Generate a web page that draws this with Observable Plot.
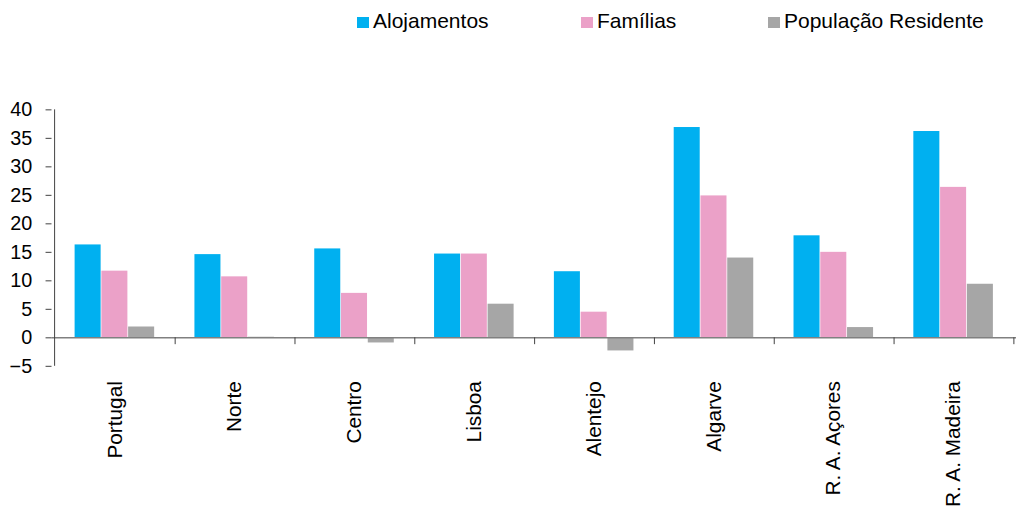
<!DOCTYPE html>
<html>
<head>
<meta charset="utf-8">
<script src="https://cdn.jsdelivr.net/npm/d3@7"></script>
<script src="https://cdn.jsdelivr.net/npm/@observablehq/plot@0.6"></script>
<style>
  html, body { margin: 0; padding: 0; background: #fff; width: 1016px; height: 508px; overflow: hidden; }
  #legend { position: relative; height: 44px; font-family: "Liberation Sans", Arial, sans-serif; font-size: 21px; color: #000; }
  #legend .item { position: absolute; top: 9px; line-height: 24px; white-space: nowrap; }
  #legend .sw { display: inline-block; width: 11.5px; height: 11.5px; margin-right: 4.5px; vertical-align: baseline; }
  #chart svg { display: block; overflow: visible; }
</style>
</head>
<body>
<div id="legend"></div>
<div id="chart"></div>
<script>
// Variação (%) por região
const regions = ["Portugal", "Norte", "Centro", "Lisboa", "Alentejo", "Algarve", "R. A. Açores", "R. A. Madeira"];
const seriesNames = ["Alojamentos", "Famílias", "População Residente"];
const alojamentos = [16.3, 14.6, 15.6, 14.7, 11.6, 36.9, 17.9, 36.2];
const familias = [11.7, 10.7, 7.8, 14.7, 4.5, 24.9, 15.0, 26.4];
const populacao = [1.9, 0.1, -0.9, 5.9, -2.3, 14.0, 1.8, 9.4];
const seriesColors = ["#00B0F0", "#EBA1C8", "#A6A6A6"];
const yTicks = [-5, 0, 5, 10, 15, 20, 25, 30, 35, 40];
const legendLeft = [357, 581, 768];

const seriesValues = [alojamentos, familias, populacao];
const table = regions.flatMap((region, i) =>
  seriesNames.map((series, j) => ({region, series, value: seriesValues[j][i]}))
);

// legend
const legend = document.getElementById("legend");
seriesNames.forEach((name, j) => {
  const item = document.createElement("div");
  item.className = "item";
  item.style.left = legendLeft[j] + "px";
  const sw = document.createElement("span");
  sw.className = "sw";
  sw.style.background = seriesColors[j];
  item.appendChild(sw);
  item.appendChild(document.createTextNode(name));
  legend.appendChild(item);
});

// chart
const width = 1026, height = 464;
const marginLeft = 52, marginRight = 0, marginTop = 66, marginBottom = 139;
const step = (width - marginLeft - marginRight) / regions.length;
const barW = step * 0.222;
const inset = (step - barW) / 2;

const chart = Plot.plot({
  width, height, marginLeft, marginRight, marginTop, marginBottom,
  style: {fontFamily: "'Liberation Sans', Arial, sans-serif", fontSize: "20px", color: "#000", background: "transparent"},
  x: {domain: regions, padding: 0, label: null},
  y: {domain: [-5, 40], label: null},
  marks: [
    ...seriesNames.map((s, j) =>
      Plot.barY(table.filter(d => d.series === s), {
        x: "region", y: "value", fill: seriesColors[j],
        insetLeft: inset, insetRight: inset, dx: (j - 1) * barW
      })
    ),
    Plot.ruleY([0], {stroke: "#808080", strokeWidth: 1.5}),
    Plot.ruleX(regions, {x: d => d, y1: 0, y2: -1.2, dx: step / 2, stroke: "#404040", strokeWidth: 1}),
    Plot.axisY({ticks: yTicks, tickSize: 6, tickPadding: 14, fontSize: 20, stroke: "#404040", label: null}),
    Plot.ruleX([0], {x: () => regions[0], dx: -step / 2, y1: -5, y2: 40, stroke: "#404040", strokeWidth: 1}),
    Plot.axisX({anchor: "bottom", tickSize: 0, tickPadding: 15, tickRotate: -90, fontSize: 21, label: null})
  ]
});
document.getElementById("chart").appendChild(chart);
</script>
</body>
</html>
